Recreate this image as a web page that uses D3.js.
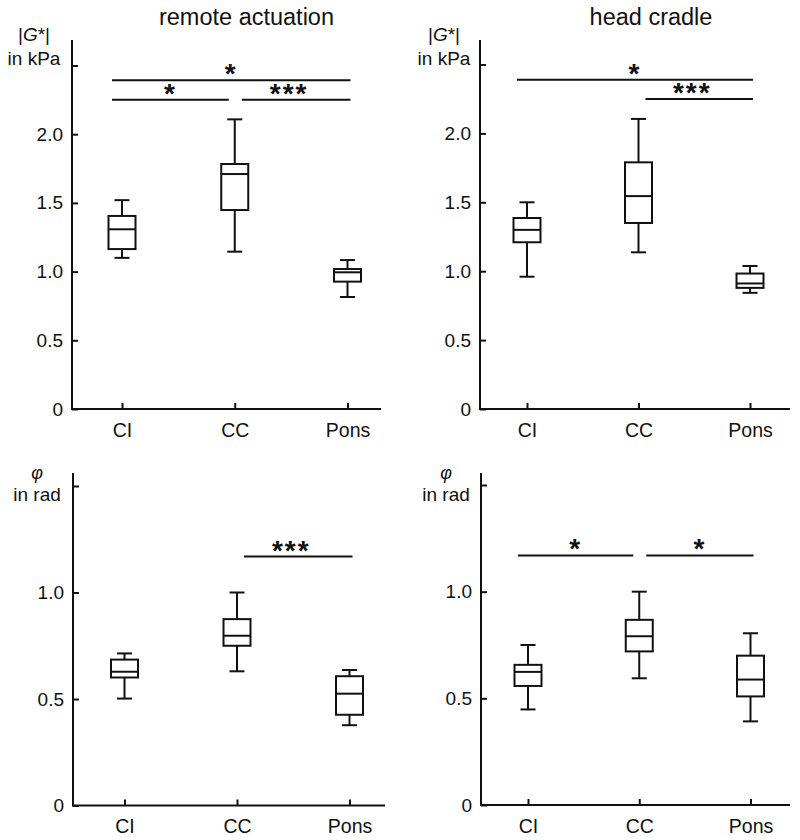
<!DOCTYPE html>
<html>
<head>
<meta charset="utf-8">
<script src="https://cdn.jsdelivr.net/npm/d3@7/dist/d3.min.js"></script>
<style>
  html, body { margin: 0; padding: 0; background: #fff; }
  svg { display: block; }
  text { font-family: "Liberation Sans", Arial, sans-serif; fill: #111; }
</style>
</head>
<body>
<svg id="chart" width="800" height="840"></svg>
<script>
// ---------------- data ----------------
const categories = ["CI", "CC", "Pons"];
const panelTitles = ["remote actuation", "head cradle"];

// |G*| in kPa, remote actuation
const remoteG_min = [1.10, 1.145, 0.815];
const remoteG_q1  = [1.164, 1.448, 0.927];
const remoteG_med = [1.308, 1.710, 0.995];
const remoteG_q3  = [1.405, 1.783, 1.019];
const remoteG_max = [1.52, 2.108, 1.084];

// |G*| in kPa, head cradle
const headG_min = [0.96, 1.137, 0.843];
const headG_q1  = [1.21, 1.35, 0.879];
const headG_med = [1.30, 1.545, 0.911];
const headG_q3  = [1.386, 1.79, 0.983];
const headG_max = [1.50, 2.105, 1.038];

// phi in rad, remote actuation
const remoteP_min = [0.502, 0.630, 0.377];
const remoteP_q1  = [0.601, 0.750, 0.426];
const remoteP_med = [0.628, 0.797, 0.525];
const remoteP_q3  = [0.685, 0.875, 0.607];
const remoteP_max = [0.714, 1.000, 0.636];

// phi in rad, head cradle
const headP_min = [0.448, 0.594, 0.392];
const headP_q1  = [0.558, 0.720, 0.509];
const headP_med = [0.624, 0.791, 0.588];
const headP_q3  = [0.657, 0.868, 0.700];
const headP_max = [0.750, 1.000, 0.805];

// tick values / labels
const gTicks = [0, 0.5, 1.0, 1.5, 2.0, 2.5];
const gTickLabels = ["0", "0.5", "1.0", "1.5", "2.0", ""];
const pTicks = [0, 0.5, 1.0, 1.5];
const pTickLabels = ["0", "0.5", "1.0", ""];

// significance brackets: [from, to, label, level]
const remoteG_sig = [["CI", "Pons", "*", 2.392], ["CI", "CC", "*", 2.251], ["CC", "Pons", "***", 2.251]];
const headG_sig   = [["CI", "Pons", "*", 2.389], ["CC", "Pons", "***", 2.249]];
const remoteP_sig = [["CC", "Pons", "***", 1.169]];
const headP_sig   = [["CI", "CC", "*", 1.170], ["CC", "Pons", "*", 1.170]];

// ---------------- layout ----------------
const svg = d3.select("#chart");
const FONT = '"Liberation Sans", Arial, sans-serif';

const panels = [
  { stats: [remoteG_min, remoteG_q1, remoteG_med, remoteG_q3, remoteG_max], sig: remoteG_sig,
    ticks: gTicks, tickLabels: gTickLabels, yMax: 2.5,
    axisX: 72, xFirst: 122, xLast: 347.5, xEnd: 381, yBottom: 409, yTopVal: 65.5, axisTop: 40,
    ylab: "G", ylabX: 34, ylabY1: 41, ylabY2: 65, title: panelTitles[0], titleX: 246.5 },
  { stats: [headG_min, headG_q1, headG_med, headG_q3, headG_max], sig: headG_sig,
    ticks: gTicks, tickLabels: gTickLabels, yMax: 2.5,
    axisX: 480, xFirst: 527, xLast: 750, xEnd: 790, yBottom: 409, yTopVal: 64.5, axisTop: 40,
    ylab: "G", ylabX: 444, ylabY1: 41, ylabY2: 65, title: panelTitles[1], titleX: 651 },
  { stats: [remoteP_min, remoteP_q1, remoteP_med, remoteP_q3, remoteP_max], sig: remoteP_sig,
    ticks: pTicks, tickLabels: pTickLabels, yMax: 1.5,
    axisX: 73, xFirst: 124.5, xLast: 349.5, xEnd: 385, yBottom: 805.5, yTopVal: 486, axisTop: 473,
    ylab: "P", ylabX: 37, ylabY1: 479, ylabY2: 501 },
  { stats: [headP_min, headP_q1, headP_med, headP_q3, headP_max], sig: headP_sig,
    ticks: pTicks, tickLabels: pTickLabels, yMax: 1.5,
    axisX: 481, xFirst: 528, xLast: 750.5, xEnd: 790, yBottom: 805, yTopVal: 485, axisTop: 473,
    ylab: "P", ylabX: 446, ylabY1: 479, ylabY2: 501 }
];

const ink = "#111";
const boxW = 27, capW = 15, sw = 2;

panels.forEach(p => {
  const g = svg.append("g");
  const x = d3.scalePoint().domain(categories).range([p.xFirst, p.xLast]);
  const y = d3.scaleLinear().domain([0, p.yMax]).range([p.yBottom, p.yTopVal]);

  // y axis
  const yAxis = d3.axisLeft(y).tickValues(p.ticks).tickSize(-6).tickPadding(9)
    .tickFormat((d, i) => p.tickLabels[i]);
  const ya = g.append("g").attr("transform", `translate(${p.axisX},0)`).call(yAxis);
  ya.select(".domain").remove();
  ya.selectAll(".tick line").attr("stroke", ink).attr("stroke-width", sw);
  ya.selectAll(".tick text").style("font-size", "19px").attr("fill", ink)
    .style("font-family", FONT);
  g.append("line").attr("x1", p.axisX).attr("x2", p.axisX)
    .attr("y1", p.axisTop).attr("y2", p.yBottom + 1)
    .attr("stroke", ink).attr("stroke-width", sw);

  // x axis
  const xAxis = d3.axisBottom(x).tickSize(-6).tickPadding(14);
  const xa = g.append("g").attr("transform", `translate(0,${p.yBottom})`).call(xAxis);
  xa.select(".domain").remove();
  xa.selectAll(".tick line").attr("stroke", ink).attr("stroke-width", sw);
  xa.selectAll(".tick text").style("font-size", "19.5px").attr("fill", ink)
    .style("font-family", FONT);
  g.append("line").attr("x1", p.axisX - 1).attr("x2", p.xEnd)
    .attr("y1", p.yBottom).attr("y2", p.yBottom)
    .attr("stroke", ink).attr("stroke-width", sw);

  // boxes
  const [mn, q1, md, q3, mx] = p.stats;
  categories.forEach((c, i) => {
    const cx = x(c);
    const bg = g.append("g").attr("fill", "none").attr("stroke", ink).attr("stroke-width", sw);
    bg.append("line").attr("x1", cx).attr("x2", cx).attr("y1", y(mx[i])).attr("y2", y(q3[i]));
    bg.append("line").attr("x1", cx).attr("x2", cx).attr("y1", y(q1[i])).attr("y2", y(mn[i]));
    bg.append("line").attr("x1", cx - capW / 2).attr("x2", cx + capW / 2).attr("y1", y(mx[i])).attr("y2", y(mx[i]));
    bg.append("line").attr("x1", cx - capW / 2).attr("x2", cx + capW / 2).attr("y1", y(mn[i])).attr("y2", y(mn[i]));
    bg.append("rect").attr("x", cx - boxW / 2).attr("y", y(q3[i]))
      .attr("width", boxW).attr("height", y(q1[i]) - y(q3[i])).attr("fill", "#fff");
    bg.append("line").attr("x1", cx - boxW / 2).attr("x2", cx + boxW / 2).attr("y1", y(md[i])).attr("y2", y(md[i]));
  });

  // significance lines
  p.sig.forEach(([a, b, lab, lvl]) => {
    const x1 = a === "CC" ? x(a) + 7 : x(a) - 10;
    const x2 = b === "CC" ? x(b) - 6 : x(b) + 3;
    const yy = y(lvl);
    g.append("line").attr("x1", x1).attr("x2", x2).attr("y1", yy).attr("y2", yy)
      .attr("stroke", ink).attr("stroke-width", sw);
    const off = lab.length > 1 ? -7 : 0;
    g.append("text").attr("x", (x1 + x2) / 2 + off).attr("y", yy + 3)
      .attr("text-anchor", "middle").style("font-size", "28px").style("font-weight", "bold")
      .style("letter-spacing", "2px")
      .text(lab);
  });

  // y label
  const t1 = g.append("text").attr("x", p.ylabX).attr("y", p.ylabY1).attr("text-anchor", "middle")
    .style("font-size", "19px");
  if (p.ylab === "G") {
    t1.append("tspan").text("|");
    t1.append("tspan").style("font-style", "italic").text("G");
    t1.append("tspan").text("*|");
    g.append("text").attr("x", p.ylabX).attr("y", p.ylabY2).attr("text-anchor", "middle")
      .style("font-size", "19px").text("in kPa");
  } else {
    t1.style("font-style", "italic").style("font-size", "18px").text("φ");
    g.append("text").attr("x", p.ylabX).attr("y", p.ylabY2).attr("text-anchor", "middle")
      .style("font-size", "19px").text("in rad");
  }

  if (p.title) {
    g.append("text").attr("x", p.titleX).attr("y", 25).attr("text-anchor", "middle")
      .style("font-size", "23.5px").text(p.title);
  }
});
</script>
</body>
</html>
